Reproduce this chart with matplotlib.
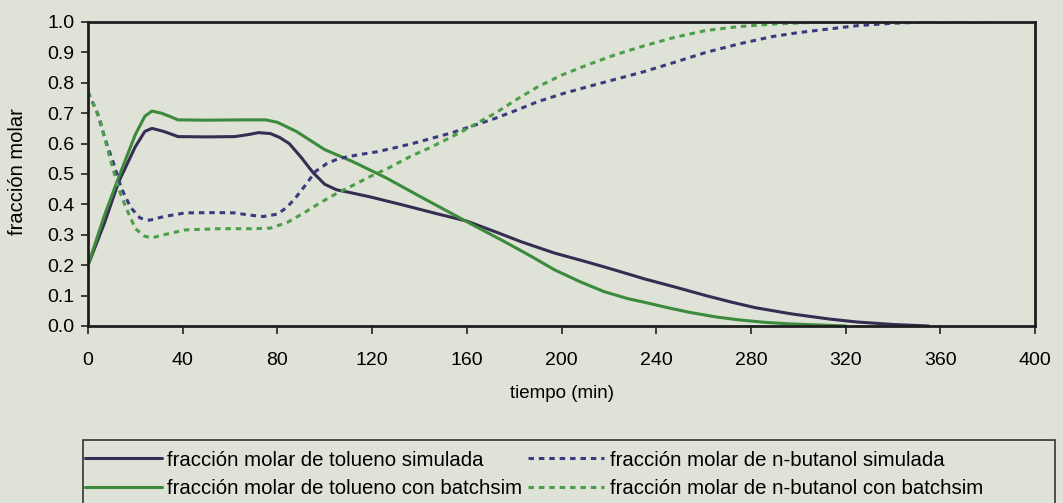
import matplotlib
matplotlib.use("Agg")
import matplotlib.pyplot as plt
from matplotlib.patches import Rectangle

plt.rcParams['font.family'] = ['Liberation Sans', 'DejaVu Sans']

# ---- data ----
t_tol_sim = [0, 7, 13, 20, 24, 27, 32, 38, 50, 62, 68, 72, 77, 81, 85, 90, 95, 100, 105, 110,
             119, 133, 147, 160, 172, 183, 197, 211, 223, 235, 248, 261, 272, 282, 297, 313,
             325, 340, 355]
x_tol_sim = [0.20, 0.34, 0.475, 0.59, 0.64, 0.65, 0.64, 0.623, 0.622, 0.623, 0.63, 0.636, 0.633,
             0.62, 0.60, 0.555, 0.505, 0.466, 0.448, 0.44, 0.425, 0.398, 0.37, 0.345, 0.31,
             0.277, 0.24, 0.21, 0.183, 0.155, 0.128, 0.10, 0.078, 0.06, 0.04, 0.023, 0.013,
             0.005, 0.0]

t_tol_bs = [0, 7, 13, 20, 24, 27, 31, 35, 38, 50, 65, 75, 80, 88, 94, 100, 112, 126, 140, 150,
            160, 168, 176, 187, 197, 208, 218, 228, 235, 245, 254, 265, 275, 286, 296, 310, 320]
x_tol_bs = [0.20, 0.365, 0.49, 0.63, 0.69, 0.707, 0.70, 0.688, 0.678, 0.677, 0.678, 0.678, 0.67,
            0.64, 0.61, 0.58, 0.54, 0.487, 0.427, 0.385, 0.343, 0.31, 0.277, 0.23, 0.185, 0.145,
            0.113, 0.09, 0.078, 0.06, 0.045, 0.03, 0.02, 0.012, 0.007, 0.003, 0.0]

t_but_sim = [0, 4, 7, 11, 14, 18, 22, 26, 32, 41, 55, 62, 68, 74, 80, 84, 88, 92, 96, 101, 106,
             114, 122, 130, 137, 145, 153, 162, 172, 181, 190, 200, 211, 223, 235, 248, 261, 275,
             289, 300, 313, 325, 340, 355, 380]
x_but_sim = [0.77, 0.70, 0.62, 0.53, 0.455, 0.39, 0.355, 0.348, 0.36, 0.372, 0.373, 0.372, 0.365,
             0.36, 0.368, 0.39, 0.425, 0.465, 0.508, 0.535, 0.551, 0.563, 0.573, 0.587, 0.60,
             0.617, 0.634, 0.657, 0.683, 0.71, 0.738, 0.763, 0.787, 0.812, 0.837, 0.868, 0.90,
             0.928, 0.952, 0.965, 0.977, 0.988, 0.996, 1.0, 1.0]

t_but_bs = [0, 5, 9, 13, 16, 20, 24, 27, 32, 41, 55, 70, 77, 84, 91, 98, 105, 112, 119, 127, 136,
            144, 151, 158, 165, 172, 181, 190, 200, 211, 223, 235, 248, 261, 275, 289, 310, 380]
x_but_bs = [0.77, 0.68, 0.56, 0.45, 0.39, 0.32, 0.295, 0.29, 0.30, 0.316, 0.32, 0.32, 0.322, 0.34,
            0.371, 0.405, 0.436, 0.463, 0.491, 0.52, 0.557, 0.585, 0.612, 0.64, 0.67, 0.70,
            0.745, 0.787, 0.825, 0.859, 0.893, 0.922, 0.95, 0.972, 0.985, 0.993, 1.0, 1.0]

x_ticks = [0, 40, 80, 120, 160, 200, 240, 280, 320, 360, 400]
y_ticks = [0.0, 0.1, 0.2, 0.3, 0.4, 0.5, 0.6, 0.7, 0.8, 0.9, 1.0]

labels = ["fracción molar de tolueno simulada",
          "fracción molar de tolueno con batchsim",
          "fracción molar de n-butanol simulada",
          "fracción molar de n-butanol con batchsim"]

# ---- style ----
bg = "#dee2d7"
c_dark = "#362d52"
c_green = "#3c8a3c"
c_blue = "#3b3a80"
c_green_d = "#4c9e4a"
lw = 2.2
dash = (0, (1.8, 1.6))

fig = plt.figure(figsize=(10.63, 5.03), dpi=100, facecolor=bg)
ax = fig.add_axes([0.0828, 0.3519, 0.8909, 0.6044], facecolor=bg)

l1, = ax.plot(t_tol_sim, x_tol_sim, color=c_dark, lw=lw, solid_capstyle='round', solid_joinstyle='round')
l2, = ax.plot(t_tol_bs, x_tol_bs, color=c_green, lw=lw, solid_capstyle='round', solid_joinstyle='round')
l3, = ax.plot(t_but_sim, x_but_sim, color=c_blue, lw=lw, linestyle=dash)
l4, = ax.plot(t_but_bs, x_but_bs, color=c_green_d, lw=lw, linestyle=dash)

ax.set_xlim(0, 400)
ax.set_ylim(0, 1.0)
ax.set_xticks(x_ticks)
ax.set_yticks(y_ticks)
ax.set_xticklabels([str(v) for v in x_ticks])
ax.set_yticklabels([f"{v:.1f}" for v in y_ticks])
ax.tick_params(axis='x', direction='out', length=6, width=1.2, pad=13, labelsize=14, color='#222222')
ax.tick_params(axis='y', direction='out', length=5, width=1.2, pad=5, labelsize=14, color='#222222')
for s in ax.spines.values():
    s.set_linewidth(2.0)
    s.set_color('#1e1e1e')

ax.set_xlabel("tiempo (min)", fontsize=13.5, labelpad=11)
ax.set_ylabel("fracción molar", fontsize=14.5)
ax.yaxis.set_label_coords(-0.0644, 0.507)

# legend frame (runs off the bottom of the figure, as in the reference)
fig.patches.append(Rectangle((83 / 1063, -0.05), (1055 - 83) / 1063, 0.05 + (503 - 440) / 503,
                             transform=fig.transFigure, facecolor='none',
                             edgecolor='#333333', linewidth=1.2, zorder=1))

leg = fig.legend([l1, l2, l3, l4], labels, ncol=2, loc='upper left',
                 bbox_to_anchor=(85 / 1063, 1 - 450.5 / 503),
                 fontsize=14.7, frameon=False,
                 handlelength=3.75, handletextpad=0.25, columnspacing=0.3,
                 borderaxespad=0.0, borderpad=0.0, labelspacing=0.45)

fig.savefig("out.png", dpi=100, facecolor=bg)
